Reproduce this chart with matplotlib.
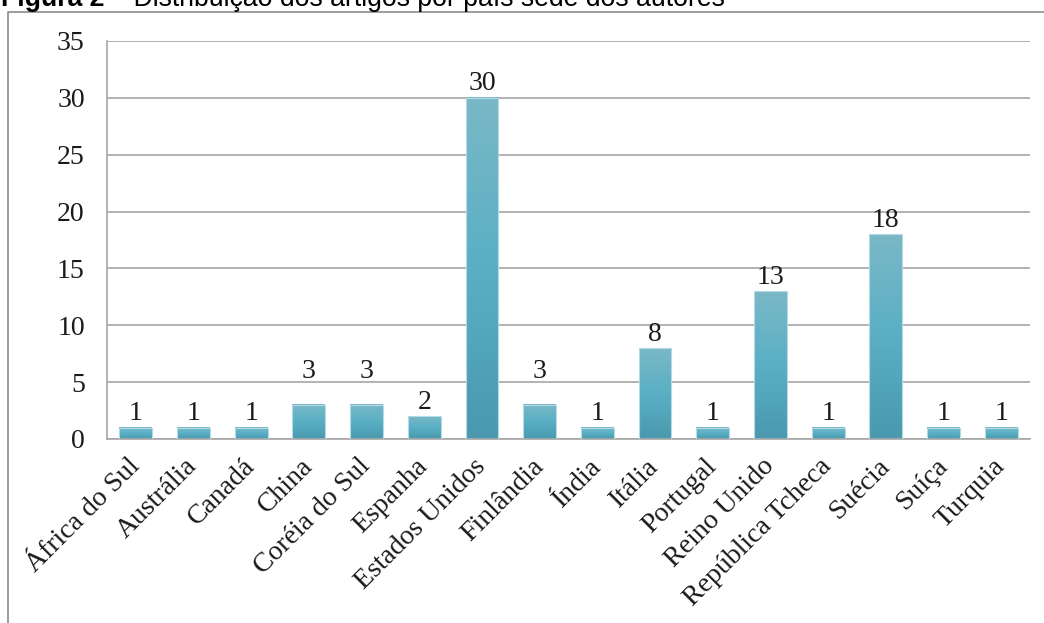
import numpy as np
import matplotlib.pyplot as plt
from matplotlib.colors import LinearSegmentedColormap

# data
paises = ["África do Sul", "Austrália", "Canadá", "China", "Coréia do Sul",
          "Espanha", "Estados Unidos", "Finlândia", "Índia", "Itália",
          "Portugal", "Reino Unido", "República Tcheca", "Suécia", "Suíça",
          "Turquia"]
artigos = [1, 1, 1, 3, 3, 2, 30, 3, 1, 8, 1, 13, 1, 18, 1, 1]
y_ticks = [0, 5, 10, 15, 20, 25, 30, 35]

titulo_bold = "Figura 2"
titulo_resto = " – Distribuição dos artigos por país sede dos autores"

# labels that were nudged upward in the original (points)
label_lift = {"China": 14, "Coréia do Sul": 14, "Finlândia": 14}

W, H = 1044, 623
fig = plt.figure(figsize=(W / 100, H / 100), dpi=100)
ax = fig.add_axes([107 / W, 1 - 439 / H, (1030 - 107) / W, (439 - 41) / H])

grad = LinearSegmentedColormap.from_list("barra", ["#4a99ae", "#5aafc4", "#7ab8c7"])
g = np.linspace(0, 1, 256).reshape(-1, 1)

largura = 0.57
x = np.arange(len(paises))
for xi, v in zip(x, artigos):
    ax.imshow(g, cmap=grad, origin="lower", aspect="auto", zorder=2,
              extent=[xi - largura / 2, xi + largura / 2, 0, v])
ax.bar(x, artigos, width=largura, facecolor="none", edgecolor="#b4dbe5",
       linewidth=0.8, zorder=3)

for xi, v, p in zip(x, artigos, paises):
    ax.annotate(str(v), (xi, v), xytext=(0, 1 + label_lift.get(p, 0)),
                textcoords="offset points", ha="center", va="bottom",
                fontsize=20, family="Liberation Serif", color="#1a1a1a")

ax.set_xlim(-0.5, len(paises) - 0.5)
ax.set_ylim(0, 35)
ax.set_yticks(y_ticks)
ax.set_yticklabels([str(t) for t in y_ticks], family="Liberation Serif",
                   fontsize=20)
ax.set_xticks(x)
ax.set_xticklabels(paises, rotation=45, ha="right", va="center",
                   rotation_mode="anchor", family="Liberation Serif",
                   fontsize=20)
ax.tick_params(axis="both", length=0, colors="#1a1a1a")
ax.tick_params(axis="y", pad=16)
ax.tick_params(axis="x", pad=17)

ax.grid(axis="y", color="#a6a6a6", linewidth=1.2, zorder=1)
ax.set_axisbelow(True)
for s in ["top", "right"]:
    ax.spines[s].set_visible(False)
for s in ["left", "bottom"]:
    ax.spines[s].set_color("#a6a6a6")
    ax.spines[s].set_linewidth(1.2)

# outer chart frame, clipped by the page
fig.add_artist(plt.Line2D([8 / W, 8 / W, 1.0], [0.0, 1 - 12 / H, 1 - 12 / H],
                          color="#8c8c8c", linewidth=1.2))

# caption cut off at the top, as in the original page crop
t1 = fig.text(1 / W, 1 - 6.5 / H, titulo_bold, fontsize=19.2, weight="bold",
              family="Liberation Sans", va="baseline", ha="left")
fig.canvas.draw()
bb = t1.get_window_extent()
fig.text(bb.x1 / W, 1 - 6.5 / H, titulo_resto, fontsize=19.2,
         family="Liberation Sans", va="baseline", ha="left")

fig.savefig("out.png", dpi=100)
